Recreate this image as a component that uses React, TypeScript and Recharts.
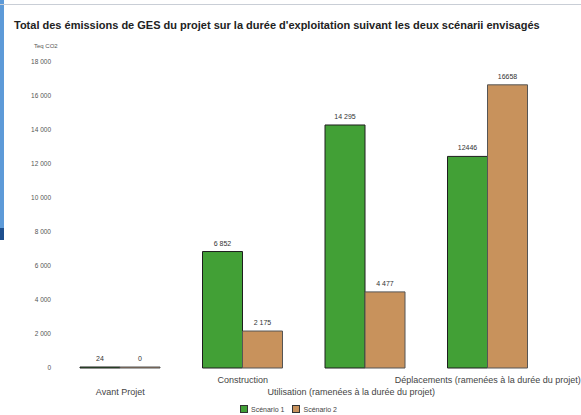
import React from 'react';
import { BarChart, Bar, XAxis, YAxis, LabelList } from 'recharts';

const categories = [
  'Avant Projet',
  'Construction',
  'Utilisation (ramenées à la durée du projet)',
  'Déplacements (ramenées à la durée du projet)',
];
const scenario1 = [24, 6852, 14295, 12446];
const scenario2 = [0, 2175, 4477, 16658];
const scenario1Labels = ['24', '6 852', '14 295', '12446'];
const scenario2Labels = ['0', '2 175', '4 477', '16658'];
const yTicks = [0, 2000, 4000, 6000, 8000, 10000, 12000, 14000, 16000, 18000];
const yTickLabels = ['0', '2 000', '4 000', '6 000', '8 000', '10 000', '12 000', '14 000', '16 000', '18 000'];
const seriesNames = ['Scénario 1', 'Scénario 2'];
const title =
  "Total des émissions de GES du projet sur la durée d'exploitation suivant les deux scénarii envisagés";
const unitLabel = 'Teq CO2';

const GREEN = '#42a036';
const ORANGE = '#c8925c';
const FONT = '"Liberation Sans", Arial, sans-serif';

const data = categories.map((c, i) => ({
  name: c,
  s1: scenario1[i],
  s2: scenario2[i],
  l1: scenario1Labels[i],
  l2: scenario2Labels[i],
}));

const XTick = (props: any) => {
  const { x, y, payload, index } = props;
  const lower = index % 2 === 0;
  return (
    <text
      x={x - (index === 2 ? 14 : 0)}
      y={y + (lower ? 19 : 7)}
      textAnchor="middle"
      fontSize={9}
      fontFamily={FONT}
      fill="#444"
    >
      {payload.value}
    </text>
  );
};

const ValueLabel = (props: any) => {
  const { x, y, width, value } = props;
  return (
    <text
      x={x + width / 2}
      y={y - 6}
      textAnchor="middle"
      fontSize={7}
      fontFamily={FONT}
      fill="#333"
    >
      {value}
    </text>
  );
};

export default function App() {
  return (
    <div style={{ position: 'absolute', left: 0, top: 0, width: 581, height: 415, background: '#fff', overflow: 'hidden', fontFamily: FONT }}>
      <div style={{ position: 'absolute', left: 0, top: 0, width: 4, height: 228, background: '#5d9ad8' }} />
      <div style={{ position: 'absolute', left: 0, top: 228, width: 4, height: 12, background: '#1d4f8e' }} />
      <div style={{ position: 'absolute', left: 0, top: 4, width: 581, height: 1, background: '#c9ced6' }} />
      <div style={{ position: 'absolute', left: 14, top: 19, fontSize: 11, fontWeight: 'bold', color: '#222', whiteSpace: 'nowrap' }}>
        {title}
      </div>
      <div style={{ position: 'absolute', left: 34, top: 43, fontSize: 6, color: '#555', whiteSpace: 'nowrap' }}>
        {unitLabel}
      </div>
      <div style={{ position: 'absolute', left: 0, top: 0 }}>
        <BarChart
          width={581}
          height={415}
          data={data}
          margin={{ top: 62, right: 32, bottom: 7, left: 9 }}
          barCategoryGap={21}
          barGap={0}
        >
          <XAxis
            dataKey="name"
            axisLine={false}
            tickLine={false}
            height={40}
            interval={0}
            tick={XTick}
          />
          <YAxis
            domain={[0, 18000]}
            ticks={yTicks}
            interval={0}
            width={50}
            axisLine={false}
            tickLine={false}
            tick={{ fontSize: 6.5, fill: '#555', fontFamily: FONT }}
            tickFormatter={(v: number) => yTickLabels[yTicks.indexOf(v)]}
          />
          <Bar dataKey="s1" name={seriesNames[0]} fill={GREEN} stroke="#1e1e1e" strokeWidth={1} minPointSize={1} isAnimationActive={false}>
            <LabelList dataKey="l1" content={ValueLabel} />
          </Bar>
          <Bar dataKey="s2" name={seriesNames[1]} fill={ORANGE} stroke="#555" strokeWidth={1} minPointSize={1} isAnimationActive={false}>
            <LabelList dataKey="l2" content={ValueLabel} />
          </Bar>
        </BarChart>
      </div>
      <div style={{ position: 'absolute', left: 240, top: 405, display: 'flex', alignItems: 'center', fontSize: 7, color: '#444', whiteSpace: 'nowrap' }}>
        <span style={{ display: 'inline-block', width: 6, height: 6, background: GREEN, border: '1px solid #333', marginRight: 3 }} />
        <span style={{ marginRight: 8 }}>{seriesNames[0]}</span>
        <span style={{ display: 'inline-block', width: 6, height: 6, background: ORANGE, border: '1px solid #333', marginRight: 3 }} />
        <span>{seriesNames[1]}</span>
      </div>
    </div>
  );
}
